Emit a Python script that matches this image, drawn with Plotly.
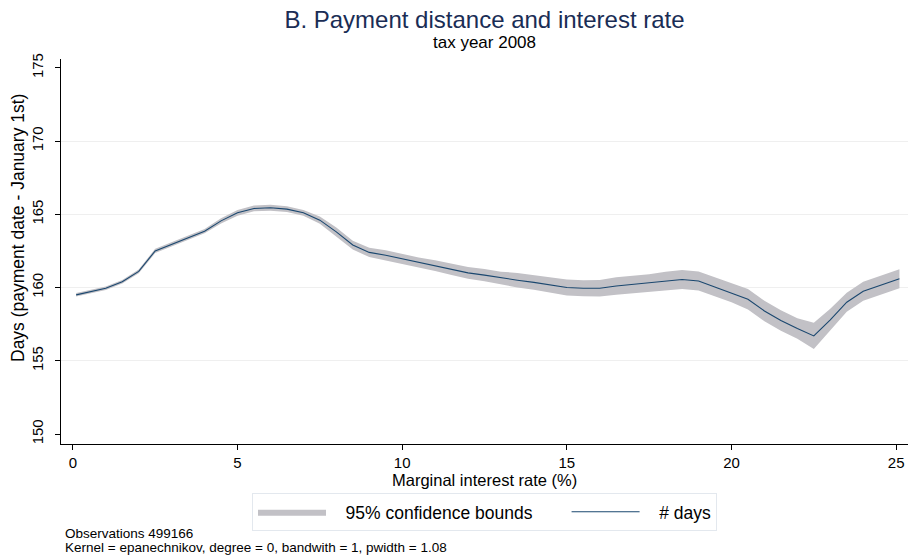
import plotly.graph_objects as go

# local polynomial smooth of days vs marginal interest rate
rate = [0.1, 0.5, 1.0, 1.5, 2.0, 2.5, 3.0, 3.5, 4.0, 4.5, 5.0, 5.5, 6.0, 6.5, 7.0, 7.5,
        8.0, 8.5, 9.0, 9.5, 10.0, 10.5, 11.0, 11.5, 12.0, 12.5, 13.0, 13.5, 14.0, 14.5,
        15.0, 15.5, 16.0, 16.5, 17.0, 17.5, 18.0, 18.5, 19.0, 19.5, 20.0, 20.5, 21.0,
        21.5, 22.0, 22.5, 23.0, 23.5, 24.0, 24.5, 25.1]
days = [159.5, 159.7, 159.95, 160.4, 161.1, 162.5, 162.95, 163.35, 163.85, 164.55,
        165.1, 165.4, 165.45, 165.35, 165.1, 164.6, 163.8, 162.9, 162.4, 162.2, 161.95,
        161.7, 161.5, 161.25, 161.0, 160.85, 160.65, 160.5, 160.35, 160.15, 160.0,
        159.95, 159.95, 160.1, 160.2, 160.3, 160.45, 160.55, 160.45, 160.05, 159.65,
        159.2, 158.4, 157.75, 157.2, 156.7, 157.8, 159.0, 159.75, 160.15, 160.6]
ci_low = [159.38, 159.58, 159.83, 160.28, 160.97, 162.35, 162.8, 163.2, 163.7, 164.37,
          164.9, 165.2, 165.25, 165.15, 164.9, 164.35, 163.5, 162.6, 162.08, 161.85,
          161.6, 161.35, 161.13, 160.85, 160.6, 160.43, 160.22, 160.0, 159.85, 159.63,
          159.45, 159.4, 159.38, 159.5, 159.6, 159.7, 159.82, 159.9, 159.8, 159.4,
          159.0, 158.5, 157.7, 157.05, 156.5, 155.8, 157.05, 158.35, 159.1, 159.5, 159.95]
ci_high = [159.62, 159.82, 160.07, 160.52, 161.23, 162.65, 163.1, 163.5, 164.0, 164.73,
           165.3, 165.6, 165.65, 165.55, 165.3, 164.85, 164.1, 163.2, 162.72, 162.55,
           162.3, 162.05, 161.87, 161.65, 161.4, 161.27, 161.08, 161.0, 160.85, 160.67,
           160.55, 160.5, 160.52, 160.7, 160.8, 160.9, 161.08, 161.2, 161.1, 160.7,
           160.3, 159.9, 159.1, 158.45, 157.9, 157.6, 158.55, 159.65, 160.4, 160.8, 161.25]

x_ticks = [0, 5, 10, 15, 20, 25]
y_ticks = [150, 155, 160, 165, 170, 175]
grid_lines = [155, 160, 165, 170]

navy = "#1a476f"
band = "#c2c1c6"
font = "Liberation Sans, Arial, sans-serif"
nb = "\u00a0"

fig = go.Figure()
fig.add_trace(go.Scatter(x=rate, y=ci_low, mode="lines", line=dict(width=0, color=band),
                         showlegend=False, hoverinfo="skip"))
fig.add_trace(go.Scatter(x=rate, y=ci_high, mode="lines", line=dict(width=0, color=band),
                         fill="tonexty", fillcolor=band,
                         name=nb * 3 + "95% confidence bounds" + nb * 6))
fig.add_trace(go.Scatter(x=rate, y=days, mode="lines", line=dict(color=navy, width=1.1),
                         name=nb * 3 + "# days"))
# invisible trace so the grid-only axis gets drawn
fig.add_trace(go.Scatter(x=[rate[0]], y=[days[0]], yaxis="y2", mode="markers",
                         marker=dict(opacity=0), showlegend=False, hoverinfo="skip"))

fig.update_layout(
    width=910, height=559,
    paper_bgcolor="white", plot_bgcolor="white",
    font=dict(family=font, color="black", size=14),
    margin=dict(l=61, r=2, t=59, b=115),
    title=dict(text="B. Payment distance and interest rate",
               xref="paper", x=0.5, xanchor="center",
               yref="container", y=1 - 20 / 559, yanchor="middle",
               font=dict(size=24, color="#1a2d55", family=font)),
    xaxis=dict(range=[-0.36, 25.36], tickvals=x_ticks, showgrid=False, zeroline=False,
               showline=True, linecolor="black", linewidth=1.2, ticks="outside",
               ticklen=5, tickcolor="black", tickfont=dict(size=15),
               ticklabelstandoff=0),
    yaxis=dict(range=[149.32, 175.6], tickvals=y_ticks, showgrid=False, zeroline=False,
               showline=True, linecolor="black", linewidth=1.2, ticks="outside",
               ticklen=5, tickcolor="black", tickangle=-90, tickfont=dict(size=15),
               ticklabelstandoff=6),
    yaxis2=dict(range=[149.32, 175.6], overlaying="y", tickvals=grid_lines,
                showgrid=True, gridcolor="#efefef", gridwidth=1, showticklabels=False,
                zeroline=False, showline=False),
    legend=dict(orientation="h", x=0.5, xanchor="center", y=-0.127, yanchor="top",
                bordercolor="#e3e8ee", borderwidth=1, font=dict(size=17.5),
                itemwidth=68, traceorder="normal"),
    showlegend=True,
)

fig.add_annotation(text="tax year 2008", xref="paper", yref="paper", x=0.5,
                   y=(444 - 43) / 385, yanchor="middle", showarrow=False,
                   font=dict(size=17, family=font))
fig.add_annotation(text="Marginal interest rate (%)", xref="paper", yref="paper", x=0.5,
                   y=(444 - 479.5) / 385, yanchor="middle", showarrow=False,
                   font=dict(size=16.5, family=font))
fig.add_annotation(text="Days (payment date - January 1st)", xref="paper", yref="paper",
                   x=(18 - 61) / 847, y=(444 - 228) / 385, xanchor="center",
                   yanchor="middle", textangle=-90, showarrow=False,
                   font=dict(size=17.5, family=font))
fig.add_annotation(text="Observations 499166", xref="paper", yref="paper",
                   x=(63 - 61) / 847, y=(444 - 533) / 385, xanchor="left",
                   yanchor="middle", showarrow=False, font=dict(size=13.5, family=font))
fig.add_annotation(text="Kernel = epanechnikov, degree = 0, bandwith = 1, pwidth = 1.08",
                   xref="paper", yref="paper", x=(63 - 61) / 847, y=(444 - 547) / 385,
                   xanchor="left", yanchor="middle", showarrow=False,
                   font=dict(size=13.5, family=font))

fig.write_html("out.html", config={"displayModeBar": False},
               post_script="document.body.style.margin='0';")
